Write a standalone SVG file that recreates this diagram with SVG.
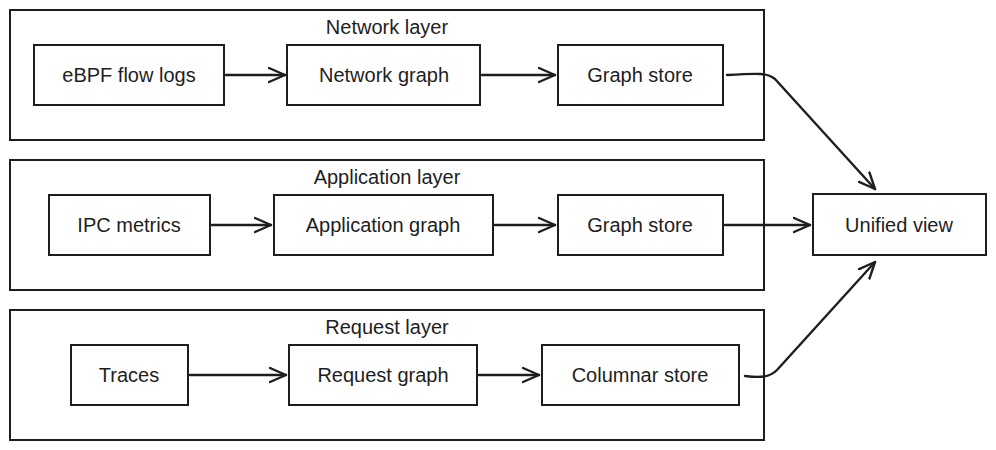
<svg xmlns="http://www.w3.org/2000/svg" width="996" height="450" viewBox="0 0 996 450">
<style>
.layer{fill:none;stroke:#1e1e1e;stroke-width:2}
.node{fill:#fff;stroke:#1e1e1e;stroke-width:2}
.t{font-family:"Liberation Sans","DejaVu Sans",sans-serif;font-size:20px;fill:#1e1e1e;text-anchor:middle;dominant-baseline:central}
.e{fill:none;stroke:#1e1e1e;stroke-width:2.4;stroke-linecap:round;stroke-linejoin:round}
</style>
<defs>
<marker id="ah" markerUnits="userSpaceOnUse" markerWidth="20" markerHeight="18" refX="17" refY="9" orient="auto" viewBox="0 0 20 18">
<path d="M1,2 L17,9 L1,16" fill="none" stroke="#1e1e1e" stroke-width="2.4" stroke-linecap="round" stroke-linejoin="round"/>
</marker>
</defs>
<g id="network-layer">
<rect class="layer" x="10" y="10" width="754" height="130"/>
<text class="t" x="387" y="27">Network layer</text>
</g>
<g id="application-layer">
<rect class="layer" x="10" y="160" width="754" height="130"/>
<text class="t" x="387" y="177">Application layer</text>
</g>
<g id="request-layer">
<rect class="layer" x="10" y="310" width="754" height="130"/>
<text class="t" x="387" y="327">Request layer</text>
</g>
<g id="ebpf"><rect class="node" x="34" y="45" width="190" height="60"/><text class="t" x="129" y="75">eBPF flow logs</text></g>
<g id="network-graph"><rect class="node" x="287" y="45" width="193" height="60"/><text class="t" x="384" y="75">Network graph</text></g>
<g id="graph-store-1"><rect class="node" x="558" y="45" width="165" height="60"/><text class="t" x="640" y="75">Graph store</text></g>
<g id="ipc"><rect class="node" x="49" y="195" width="161" height="60"/><text class="t" x="129" y="225">IPC metrics</text></g>
<g id="application-graph"><rect class="node" x="274" y="195" width="219" height="60"/><text class="t" x="383" y="225">Application graph</text></g>
<g id="graph-store-2"><rect class="node" x="558" y="195" width="165" height="60"/><text class="t" x="640" y="225">Graph store</text></g>
<g id="unified"><rect class="node" x="813" y="194" width="173" height="61"/><text class="t" x="899" y="225">Unified view</text></g>
<g id="traces"><rect class="node" x="71" y="345" width="117" height="60"/><text class="t" x="129" y="375">Traces</text></g>
<g id="request-graph"><rect class="node" x="289" y="345" width="188" height="60"/><text class="t" x="383" y="375">Request graph</text></g>
<g id="columnar"><rect class="node" x="542" y="345" width="197" height="60"/><text class="t" x="640" y="375">Columnar store</text></g>
<g id="connectors">
<path class="e" marker-end="url(#ah)" d="M226,75 L285,75"/>
<path class="e" marker-end="url(#ah)" d="M482,75 L555,75"/>
<path class="e" marker-end="url(#ah)" d="M727,75 C760,73 768,73 775,79 L875,189"/>
<path class="e" marker-end="url(#ah)" d="M212,225 L271,225"/>
<path class="e" marker-end="url(#ah)" d="M495,225 L555,225"/>
<path class="e" marker-end="url(#ah)" d="M725,225 L810,225"/>
<path class="e" marker-end="url(#ah)" d="M190,375 L286,375"/>
<path class="e" marker-end="url(#ah)" d="M479,375 L539,375"/>
<path class="e" marker-end="url(#ah)" d="M745,376 C762,378 770,377 777,370 L875,262"/>
</g>
</svg>
